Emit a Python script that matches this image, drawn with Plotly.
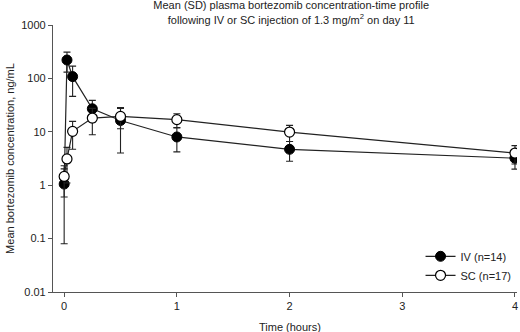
import plotly.graph_objects as go

time_h = [0, 0.025, 0.075, 0.25, 0.5, 1, 2, 4]
iv_mean = [1.05, 221, 108, 27, 16.3, 8.0, 4.7, 3.2]
iv_sd = [0.97, 90, 62, 11.7, 12.3, 3.8, 1.9, 1.2]
sc_mean = [1.46, 3.1, 10.2, 18.1, 19.4, 16.9, 9.9, 4.0]
sc_sd = [0.86, 2.0, 5.5, 9.3, 8.0, 4.9, 3.3, 1.5]

x_ticks = [0, 1, 2, 3, 4]
y_ticks = [0.01, 0.1, 1, 10, 100, 1000]
y_tick_labels = ["0.01", "0.1", "1", "10", "100", "1000"]

FONT = "Liberation Sans, Arial, sans-serif"
LINE = "#222222"

fig = go.Figure()
fig.add_trace(go.Scatter(
    x=time_h, y=iv_mean, name="IV (n=14)", mode="lines+markers",
    line=dict(color=LINE, width=1.2),
    marker=dict(symbol="circle", size=10, color="black", line=dict(color="black", width=1)),
    error_y=dict(type="data", array=iv_sd, visible=True, color=LINE, thickness=1.1, width=3.5),
))
fig.add_trace(go.Scatter(
    x=time_h, y=sc_mean, name="SC (n=17)", mode="lines+markers",
    line=dict(color=LINE, width=1.2),
    marker=dict(symbol="circle", size=10, color="white", line=dict(color="black", width=1.2)),
    error_y=dict(type="data", array=sc_sd, visible=True, color=LINE, thickness=1.1, width=3.5),
))

fig.update_layout(
    width=520, height=332,
    margin=dict(l=53, r=3, t=25, b=40, autoexpand=False),
    paper_bgcolor="white", plot_bgcolor="white",
    font=dict(family=FONT, size=11, color="#222"),
    title=dict(
        text="Mean (SD) plasma bortezomib concentration-time profile<br>following IV or SC injection of 1.3 mg/m<sup>2</sup> on day 11",
        x=0.56, xanchor="center", y=0.972, yanchor="top",
        font=dict(family=FONT, size=11, color="#222"),
    ),
    showlegend=True,
    legend=dict(
        x=0.999, xanchor="right", y=0.188, yanchor="top",
        bgcolor="rgba(0,0,0,0)", font=dict(family=FONT, size=11),
        itemwidth=30, tracegroupgap=2,
    ),
    xaxis=dict(
        range=[-0.099, 4.018], tickvals=x_ticks, ticks="outside", ticklen=4,
        tickcolor="#555", showline=True, linecolor="#555", linewidth=1.2,
        showgrid=False, zeroline=False, automargin=False,
    ),
    yaxis=dict(
        type="log", range=[-2, 3], tickvals=y_ticks, ticktext=y_tick_labels,
        ticks="outside", ticklen=4, tickcolor="#555", showline=True,
        linecolor="#555", linewidth=1.2, showgrid=False, zeroline=False,
        automargin=False,
        title=dict(text="Mean bortezomib concentration, ng/mL", standoff=4, font=dict(size=11)),
    ),
    annotations=[dict(
        text="Time (hours)", xref="x", x=2, yref="paper", y=-35 / 267,
        yanchor="middle", showarrow=False, font=dict(family=FONT, size=11, color="#222"),
    )],
)

fig.write_html(
    "out.html",
    config={"displayModeBar": False},
    post_script="document.body.style.margin='0';document.body.style.overflow='hidden';",
)
